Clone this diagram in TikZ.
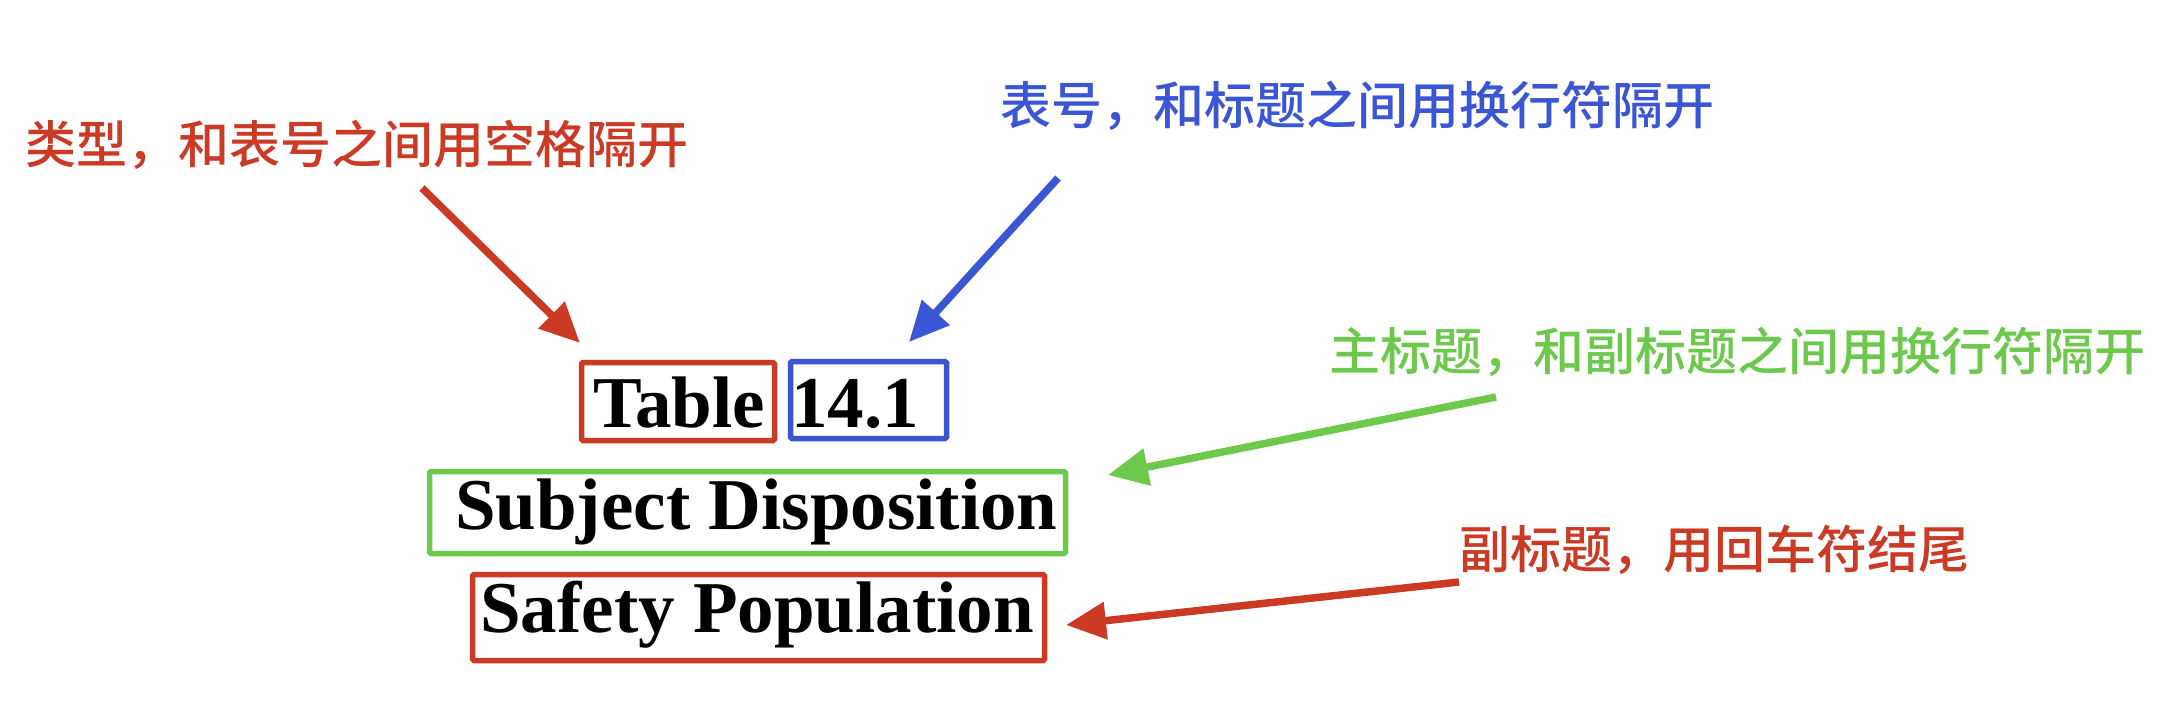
\documentclass[tikz,border=0pt]{standalone}
\usepackage{fontspec}
\setmainfont{Liberation Serif}
\newfontfamily\cjk{Noto Sans CJK SC}[UprightFont={* Medium}]
\usetikzlibrary{arrows.meta}
\definecolor{cred}{RGB}{203,58,36}
\definecolor{cblue}{RGB}{58,86,212}
\definecolor{cgreen}{RGB}{108,201,76}
\tikzset{
  boxnode/.style={draw=#1, line width=5.5pt, rounded corners=1.5pt, inner sep=0pt},
  titletext/.style={inner sep=0pt, anchor=base west, font=\fontsize{73}{80}\selectfont\bfseries},
  note/.style={inner sep=0pt, anchor=base west, text=#1, font=\fontsize{51}{60}\selectfont\cjk},
  pointer/.style={draw=#1, line width=7.5pt, -{Triangle[length=40pt,width=36pt]}, fill=#1},
}
\begin{document}
\begin{tikzpicture}[x=1pt,y=-1pt]
\useasboundingbox (0,0) rectangle (2172,724);
% boxes
\node[boxnode=cred, minimum width=193pt, minimum height=78pt] (tbl) at (678,401.5) {};
\node[boxnode=cblue, minimum width=156pt, minimum height=77pt] (num) at (868.5,400) {};
\node[boxnode=cgreen, minimum width=636pt, minimum height=82pt] (main) at (747.5,512.5) {};
\node[boxnode=cred, minimum width=572pt, minimum height=86pt] (sub) at (758.5,617.5) {};
% texts
\node[titletext] (ttable) at (593,427) {Table};
\node[titletext] (tnum) at (791,427) {14.1};
\node[titletext] (tmain) at (455,529) {Subject Disposition};
\node[titletext] (tsub) at (480,632) {Safety Population};
% notes
\node[note=cred] (n1) at (25,163) {类型，和表号之间用空格隔开};
\node[note=cblue] (n2) at (1000,124.5) {表号，和标题之间用换行符隔开};
\node[note=cgreen] (n3) at (1329,370) {主标题，和副标题之间用换行符隔开};
\node[note=cred] (n4) at (1459,568) {副标题，用回车符结尾};
% arrow ends
\coordinate (a1s) at (422,188);
\coordinate (a1e) at (580,343);
\coordinate (a2s) at (1058,178);
\coordinate (a2e) at (909,342);
\coordinate (a3s) at (1496,397);
\coordinate (a3e) at (1108,475);
\coordinate (a4s) at (1459,582);
\coordinate (a4e) at (1066,625);
\draw[pointer=cred] (a1s) -- (a1e);
\draw[pointer=cblue] (a2s) -- (a2e);
\draw[pointer=cgreen] (a3s) -- (a3e);
\draw[pointer=cred] (a4s) -- (a4e);
\end{tikzpicture}
\end{document}
